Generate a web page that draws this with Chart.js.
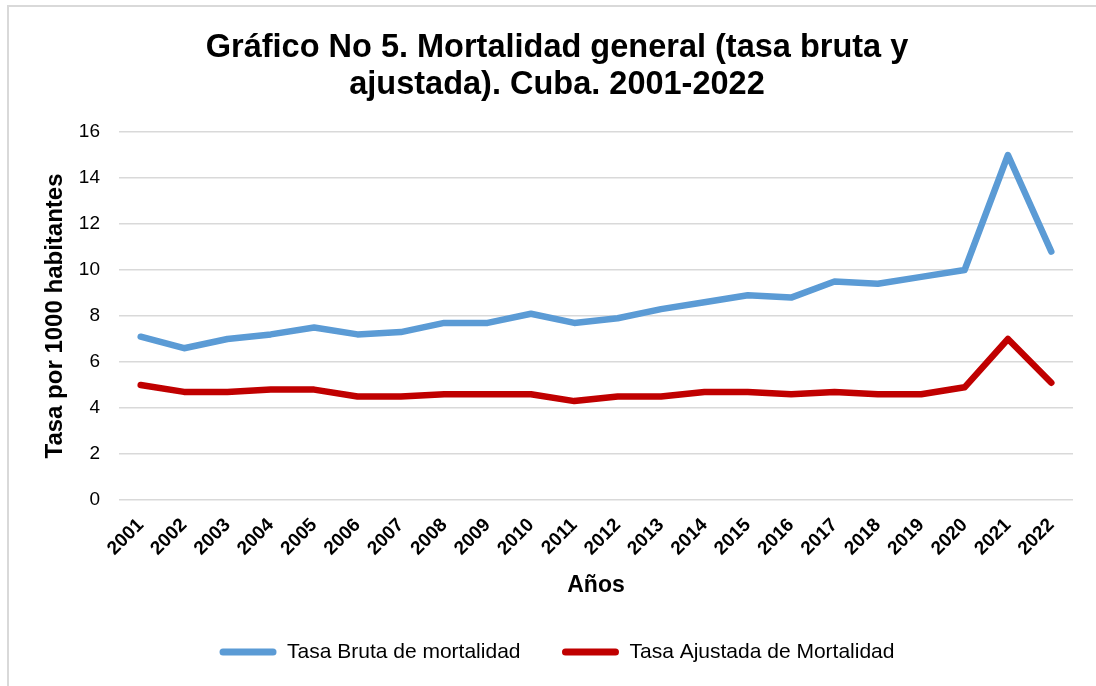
<!DOCTYPE html>
<html>
<head>
<meta charset="utf-8">
<script src="https://cdn.jsdelivr.net/npm/chart.js@4"></script>
<style>
  html, body { margin: 0; padding: 0; background: #fff; }
  body { width: 1096px; height: 686px; position: relative; overflow: hidden; }
  #frame { position: absolute; left: 7px; top: 5px; width: 1100px; height: 700px; border: 2px solid #d9d9d9; box-sizing: border-box; }
  #wrap { position: absolute; left: 0; top: 0; width: 1096px; height: 686px; }
</style>
</head>
<body>
<div id="frame"></div>
<div id="wrap"><canvas id="c" width="1096" height="686"></canvas></div>
<script>
const years = ['2001','2002','2003','2004','2005','2006','2007','2008','2009','2010','2011','2012','2013','2014','2015','2016','2017','2018','2019','2020','2021','2022'];
const tasaBruta = [7.1, 6.6, 7.0, 7.2, 7.5, 7.2, 7.3, 7.7, 7.7, 8.1, 7.7, 7.9, 8.3, 8.6, 8.9, 8.8, 9.5, 9.4, 9.7, 10.0, 15.0, 10.8];
const tasaAjustada = [5.0, 4.7, 4.7, 4.8, 4.8, 4.5, 4.5, 4.6, 4.6, 4.6, 4.3, 4.5, 4.5, 4.7, 4.7, 4.6, 4.7, 4.6, 4.6, 4.9, 7.0, 5.1];
const seriesNames = ['Tasa Bruta de mortalidad', 'Tasa Ajustada de Mortalidad'];
const seriesColors = ['#5B9BD5', '#C00000'];
const titleLines = ['Gráfico No 5. Mortalidad general (tasa bruta y', 'ajustada). Cuba. 2001-2022'];
const yTitle = 'Tasa por 1000 habitantes';
const xTitle = 'Años';

const FONT = '"Liberation Sans", Arial, Helvetica, sans-serif';

new Chart(document.getElementById('c'), {
  type: 'line',
  data: {
    labels: years,
    datasets: [
      { label: seriesNames[0], data: tasaBruta, borderColor: seriesColors[0], backgroundColor: seriesColors[0] },
      { label: seriesNames[1], data: tasaAjustada, borderColor: seriesColors[1], backgroundColor: seriesColors[1] }
    ]
  },
  options: {
    responsive: false,
    animation: false,
    devicePixelRatio: 1,
    layout: { padding: { top: 0, left: 41, right: 23, bottom: 13.5 } },
    elements: {
      line: { borderWidth: 6.5, borderCapStyle: 'round', borderJoinStyle: 'round', tension: 0 },
      point: { radius: 0, hoverRadius: 0 }
    },
    plugins: {
      title: {
        display: true,
        text: titleLines,
        color: '#000',
        font: { family: FONT, size: 32.5, weight: 'bold', lineHeight: 1.12 },
        padding: { top: 30, bottom: 29.2 }
      },
      legend: {
        position: 'bottom',
        labels: {
          color: '#000',
          font: { family: FONT, size: 21 },
          boxWidth: 57,
          boxHeight: 7,
          padding: 41.5,
          useBorderRadius: true,
          borderRadius: 3.5,
          generateLabels: (chart) => chart.data.datasets.map((ds, i) => ({
            text: ds.label,
            fillStyle: ds.borderColor,
            strokeStyle: ds.borderColor,
            lineWidth: 0,
            borderRadius: 3.5,
            fontColor: '#000',
            hidden: false,
            datasetIndex: i
          }))
        }
      },
      tooltip: { enabled: false }
    },
    scales: {
      x: {
        offset: true,
        grid: { display: false, drawTicks: false },
        border: { display: false },
        ticks: {
          color: '#000',
          font: { family: FONT, size: 19, weight: 'bold' },
          minRotation: 45,
          maxRotation: 45,
          padding: 14,
          autoSkip: false
        },
        title: {
          display: true,
          text: xTitle,
          color: '#000',
          font: { family: FONT, size: 23, weight: 'bold' },
          padding: { top: 0, bottom: 1 }
        },
        afterFit: (s) => { s.height = 100; }
      },
      y: {
        min: 0,
        max: 16,
        grid: { color: '#d9d9d9', lineWidth: 1.5, drawTicks: false },
        border: { display: false },
        ticks: {
          stepSize: 2,
          color: '#000',
          font: { family: FONT, size: 19 },
          padding: 19
        },
        title: {
          display: true,
          text: yTitle,
          color: '#000',
          font: { family: FONT, size: 24, weight: 'bold' },
          padding: { top: 0, bottom: 0 }
        },
        afterFit: (s) => { s.width = 78; }
      }
    }
  }
});
</script>
</body>
</html>
